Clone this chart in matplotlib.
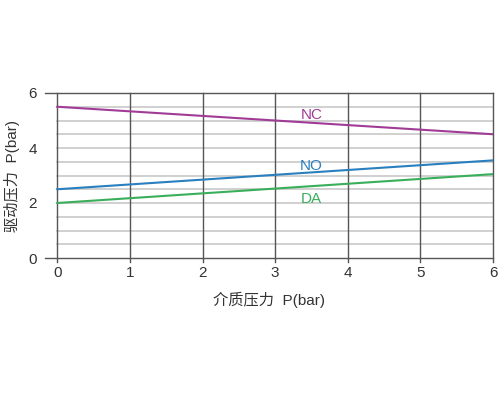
import matplotlib
matplotlib.use("Agg")
import matplotlib.pyplot as plt
import numpy as np

plt.rcParams['font.family'] = ['Liberation Sans', 'Noto Sans CJK SC', 'DejaVu Sans']

x = [0, 6]
nc = [5.5, 4.5]
no = [2.5, 3.55]
da = [2.0, 3.05]
xticks = [0, 1, 2, 3, 4, 5, 6]
yticks = [0, 2, 4, 6]

fig = plt.figure(figsize=(5, 4), dpi=100)
ax = fig.add_axes([0.09, 0.355, 0.896, 0.4125])
ax.set_xlim(-0.17, 6)
ax.set_ylim(0, 6)
for s in ax.spines.values():
    s.set_visible(False)
for yv in np.arange(0.5, 6, 0.5):
    ax.plot([0, 6], [yv, yv], color='#c8c8c8', lw=1.2, zorder=1)
for yv in [0, 6]:
    ax.plot([-0.17, 6], [yv, yv], color='#555555', lw=1, zorder=2, clip_on=False)
for xv in xticks:
    ax.plot([xv, xv], [-0.15, 6], color='#555555', lw=1, zorder=2, clip_on=False)
ax.plot(x, nc, color='#a03c96', lw=1.5, zorder=3)
ax.plot(x, no, color='#2a7fbf', lw=1.5, zorder=3)
ax.plot(x, da, color='#3aae5a', lw=1.5, zorder=3)
ax.text(3.5, 5.05, 'NC', color='#a03c96', fontsize=11, ha='center')
ax.text(3.5, 3.2, 'NO', color='#2a7fbf', fontsize=11, ha='center')
ax.text(3.5, 2.0, 'DA', color='#3aae5a', fontsize=11, ha='center')
ax.set_xticks(xticks)
ax.set_yticks(yticks)
ax.tick_params(length=0, labelsize=11, colors='#333333', pad=6)
ax.set_xlabel('介质压力  P(bar)', fontsize=11, color='#333333', labelpad=8)
ax.set_ylabel('驱动压力  P(bar)', fontsize=11, color='#333333', labelpad=6)
fig.savefig('out.png')
